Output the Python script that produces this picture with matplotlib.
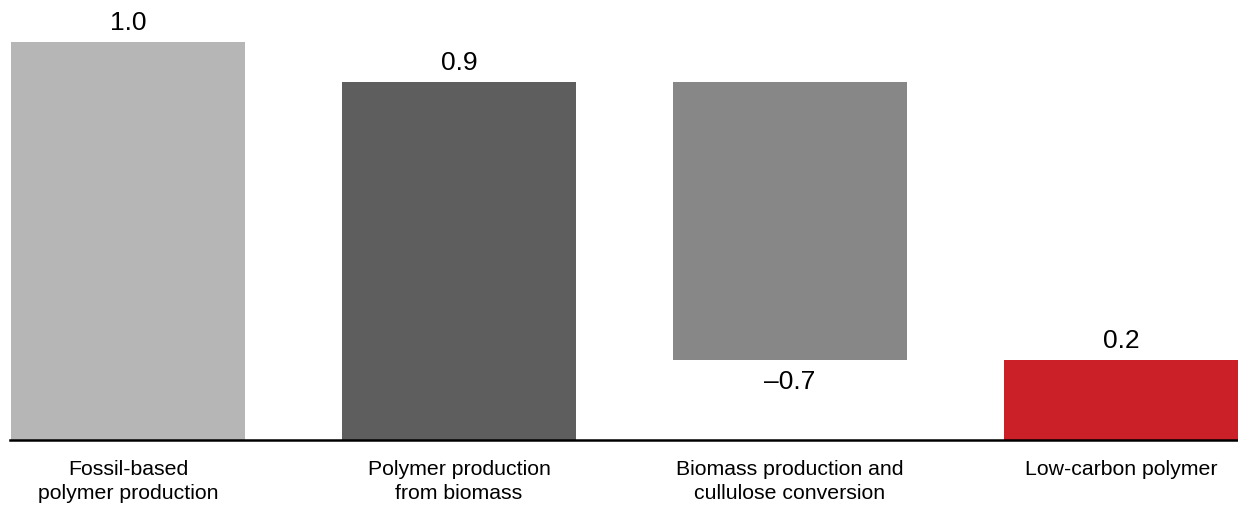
import matplotlib
matplotlib.use("Agg")
import matplotlib.pyplot as plt

plt.rcParams['font.family'] = ['Liberation Sans', 'DejaVu Sans']

categories = ["Fossil-based\npolymer production", "Polymer production\nfrom biomass",
              "Biomass production and\ncullulose conversion", "Low-carbon polymer"]
values = [1.0, 0.9, -0.7, 0.2]
bottoms = [0.0, 0.0, 0.9, 0.0]
value_labels = ["1.0", "0.9", "\u20130.7", "0.2"]
colors = ["#b5b6b5", "#5e5e5e", "#878787", "#cc2029"]

fig = plt.figure(figsize=(12.38, 5.08), dpi=100)
ax = fig.add_axes([10/1238, (508-439.5)/508, 1 - 10/1238, 439.5/508])

x = list(range(len(categories)))
width = 0.707
for i, (v, b, c) in enumerate(zip(values, bottoms, colors)):
    ax.bar(i, v, bottom=b, width=width, color=c, linewidth=0)
    if v >= 0:
        ax.annotate(value_labels[i], (i, b + v), xytext=(0, 5), textcoords="offset points",
                    ha="center", va="bottom", fontsize=19)
    else:
        ax.annotate(value_labels[i], (i, b + v), xytext=(0, -7), textcoords="offset points",
                    ha="center", va="top", fontsize=19)

ax.set_xlim(-0.3565, 3.3535)
ax.set_ylim(0, 1.106)
for s in ["top", "right", "left"]:
    ax.spines[s].set_visible(False)
ax.spines["bottom"].set_linewidth(1.8)
ax.spines["bottom"].set_color("black")
ax.set_yticks([])
ax.set_xticks(x)
ax.set_xticklabels(categories, fontsize=15.3, linespacing=1.28)
ax.tick_params(axis="x", length=0, pad=15)

fig.savefig("out.png", dpi=100)
